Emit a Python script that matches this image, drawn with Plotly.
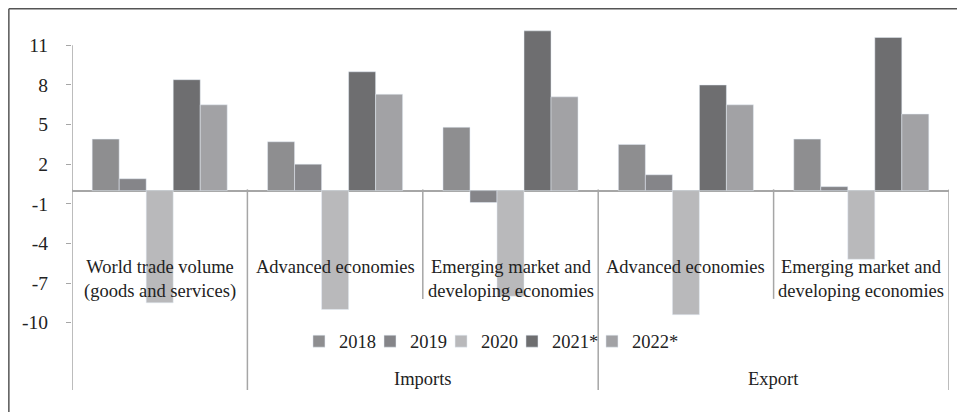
import plotly.graph_objects as go

categories = ["World trade volume<br>(goods and services)", "Advanced economies",
              "Emerging market and<br>developing economies", "Advanced economies",
              "Emerging market and<br>developing economies"]
groups = ["", "Imports", "Imports", "Export", "Export"]
years = ["2018", "2019", "2020", "2021*", "2022*"]

v2018 = [3.9, 3.7, 4.8, 3.5, 3.9]
v2019 = [0.9, 2.0, -0.9, 1.2, 0.3]
v2020 = [-8.5, -9.0, -8.0, -9.4, -5.2]
v2021 = [8.4, 9.0, 12.1, 8.0, 11.6]
v2022 = [6.5, 7.3, 7.1, 6.5, 5.8]

yticks = [11, 8, 5, 2, -1, -4, -7, -10]

colors = ["#8e8e90", "#858589", "#b9b9bb", "#6e6e70", "#a2a2a5"]
font = "Liberation Serif"
fs = 18.5
# left edge (paper) of each legend entry, Excel-style tight spacing
legend_x = [0.2588, 0.3398, 0.4208, 0.5017, 0.5929]

xs = list(range(len(categories)))
fig = go.Figure()
for k, (name, vals, c) in enumerate(zip(years, [v2018, v2019, v2020, v2021, v2022], colors)):
    lg = "legend" if k == 0 else "legend%d" % (k + 1)
    fig.add_trace(go.Bar(x=xs, y=vals, name=name, marker_color=c, legend=lg))

# category dividers: full height at group edges, short between sub-categories
shapes = []
edges = [i - 0.5 for i in xs] + [xs[-1] + 0.5]
for k, e in enumerate(edges):
    full = k == 0 or k == len(xs) or groups[k] != groups[k - 1]
    shapes.append(dict(type="line", xref="x", yref="y domain", x0=e, x1=e,
                       y0=0 if full else 0.243, y1=0.535,
                       line=dict(color="#a6a6a6", width=1.5)))
# left axis line from 0 up to top tick
shapes.append(dict(type="line", xref="x", yref="y", x0=-0.5, x1=-0.5, y0=0, y1=max(yticks),
                   line=dict(color="#a6a6a6", width=1.5)))
# outer frame (cropped on right/bottom)
shapes.append(dict(type="line", xref="paper", yref="paper", x0=-0.072, x1=1.1,
                   y0=1.017, y1=1.017, line=dict(color="#555555", width=1.5)))
shapes.append(dict(type="line", xref="paper", yref="paper", x0=-0.072, x1=-0.072,
                   y0=-0.1, y1=1.017, line=dict(color="#555555", width=1.5)))

annotations = []
for i, lab in enumerate(categories):
    annotations.append(dict(x=i, y=-4.85, xref="x", yref="y", text=lab, showarrow=False,
                            yanchor="top", font=dict(size=fs, color="#222")))
seen = []
for g in groups:
    if g and g not in seen:
        seen.append(g)
        idx = [i for i, gg in enumerate(groups) if gg == g]
        annotations.append(dict(x=sum(idx) / len(idx), y=0.03, xref="x", yref="paper",
                                text=g, showarrow=False, yanchor="middle",
                                font=dict(size=fs, color="#222")))

legends = {}
for k, lx in enumerate(legend_x):
    key = "legend" if k == 0 else "legend%d" % (k + 1)
    legends[key] = dict(orientation="h", x=lx, xanchor="left", y=0.129, yanchor="middle",
                        itemwidth=30, font=dict(size=fs), bgcolor="rgba(0,0,0,0)")

fig.update_layout(
    width=965, height=412,
    margin=dict(l=64, r=24, t=7, b=30),
    paper_bgcolor="white", plot_bgcolor="white",
    font=dict(family=font, size=fs, color="#222"),
    barmode="group", bargap=0.23, bargroupgap=0,
    showlegend=True,
    shapes=shapes, annotations=annotations,
    xaxis=dict(range=[-0.5, len(xs) - 0.5], showticklabels=False, showgrid=False,
               zeroline=False, showline=False, fixedrange=True),
    yaxis=dict(range=[-15.1, 13.3], tickvals=yticks, ticktext=[str(v) for v in yticks],
               showgrid=False, zeroline=True, tickfont=dict(size=19.5),
               zerolinecolor="#a6a6a6", zerolinewidth=1.5, showline=False,
               ticks="outside", ticklen=5, tickcolor="#a6a6a6", ticklabelstandoff=14),
    **legends,
)

fig.write_html("out.html")
